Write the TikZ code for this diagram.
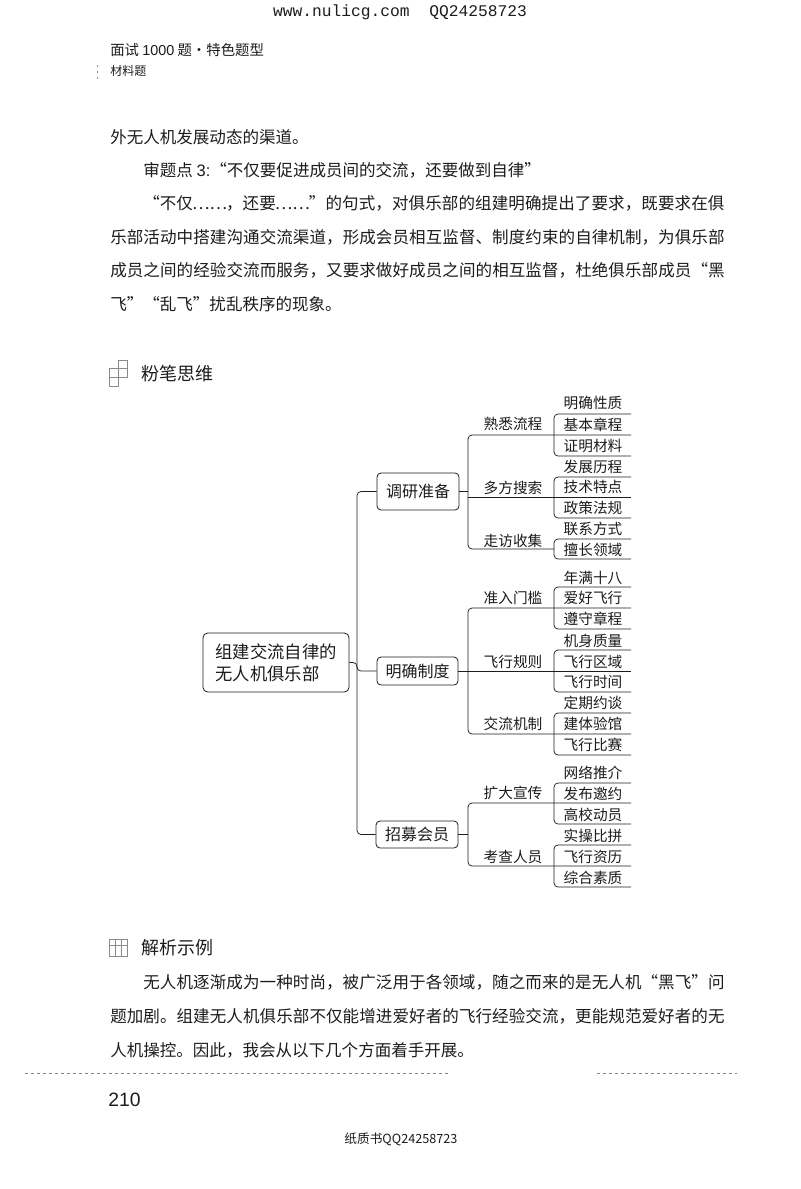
\documentclass[tikz,border=0pt]{standalone}
\usepackage{fontspec}
\setmainfont{Noto Sans CJK SC}
\newfontfamily\lat{Liberation Sans}
\newfontfamily\mon{Liberation Mono}
\XeTeXlinebreaklocale "zh"
\XeTeXlinebreakskip=0pt plus 3pt
\newcommand\fullline[1]{\parfillskip=0pt #1\par}
\newcommand\dotsbox{\makebox[2em][c]{……}}
\definecolor{ink}{HTML}{1C1C1C}
\definecolor{faint}{HTML}{8A8A8A}
\tikzset{
  link/.style={draw=ink,line width=0.55pt,rounded corners=3pt},
  rootbox/.style={draw=ink,line width=0.6pt,rounded corners=3.5pt,minimum width=109.5pt,minimum height=44.25pt,inner sep=0,align=left,font=\fontsize{13}{16.5}\selectfont,text=ink},
  midbox/.style={draw=ink,line width=0.6pt,rounded corners=3pt,inner sep=0,font=\fontsize{12}{14}\selectfont,text=ink},
  branch/.style={inner sep=0,font=\fontsize{11}{13}\selectfont,text=ink},
  leaf/.style={inner sep=0,font=\fontsize{11}{13}\selectfont,text=ink},
  bodyline/.style={anchor=west,inner sep=0,text width=461.25pt,font=\fontsize{12.4}{16}\selectfont,text=ink},
  shortline/.style={anchor=west,inner sep=0,font=\fontsize{12.4}{16}\selectfont,text=ink},
  heading/.style={anchor=west,inner sep=0,font=\fontsize{13.5}{16}\selectfont,text=ink},
  iconline/.style={draw=faint,line width=0.5pt},
}
\begin{document}
\begin{tikzpicture}[x=0.75pt,y=-0.75pt]
\useasboundingbox (0,0) rectangle (800,1189);
% page furniture
\node[inner sep=0,text=ink] (web) at (400,12) {\mon\fontsize{12.2}{14}\selectfont www.nulicg.com\hspace{1.2em}QQ24258723};
\node[anchor=west,inner sep=0,text=ink] (hd1) at (110,50) {\fontsize{10.8}{12}\selectfont 面试 {\lat 1000} 题·特色题型};
\node[anchor=west,inner sep=0,text=ink] (hd2) at (110,71) {\fontsize{9}{11}\selectfont 材料题};
\draw[faint,line width=0.5pt,dash pattern=on 1.5pt off 3pt] (97,65) -- (97,79);
% upper text
\node[shortline] (p1) at (110,137) {外无人机发展动态的渠道。};
\node[shortline] (p2) at (143,170) {审题点 {\lat 3:}“不仅要促进成员间的交流^^^^ff0c还要做到自律”};
\node[bodyline] (p3) at (110,203) {\fullline{\hspace{2em}“不仅\dotsbox{}^^^^ff0c还要\dotsbox{}”的句式^^^^ff0c对俱乐部的组建明确提出了要求^^^^ff0c既要求在俱}};
\node[bodyline] (p4) at (110,237) {\fullline{乐部活动中搭建沟通交流渠道^^^^ff0c形成会员相互监督、制度约束的自律机制^^^^ff0c为俱乐部}};
\node[bodyline] (p5) at (110,270) {\fullline{成员之间的经验交流而服务^^^^ff0c又要求做好成员之间的相互监督^^^^ff0c杜绝俱乐部成员“黑}};
\node[shortline] (p6) at (110,304) {飞”“乱飞”扰乱秩序的现象。};
% heading 1
\draw[iconline] (109,368) rectangle (118,386);
\draw[iconline] (118,360) rectangle (127,377);
\draw[iconline] (109,377) -- (118,377) (118,368) -- (127,368);
\node[heading] (h1) at (141,374) {粉笔思维};
% main nodes
\node[rootbox] (root) at (276,662.5) {组建交流自律的\\无人机俱乐部};
\node[midbox,minimum width=61.5pt,minimum height=27.75pt] (a) at (418,491.5) {调研准备};
\node[midbox,minimum width=60.75pt,minimum height=21pt] (b) at (417.5,671) {明确制度};
\node[midbox,minimum width=61.5pt,minimum height=20.25pt] (c) at (417,834.5) {招募会员};
% first-level connectors
\coordinate (tk) at (357,662.5);
\draw[link] (root.east) -- (tk) |- (b.west);
\draw[link] (a.west) -| (tk) |- (c.west);
% branch labels
\node[branch] (a1) at (513,424) {熟悉流程};
\node[branch] (a2) at (513,488) {多方搜索};
\node[branch] (a3) at (513,541) {走访收集};
\node[branch] (b1) at (513,598) {准入门槛};
\node[branch] (b2) at (513,662) {飞行规则};
\node[branch] (b3) at (513,724) {交流机制};
\node[branch] (c1) at (513,793) {扩大宣传};
\node[branch] (c2) at (513,857) {考查人员};
% leaf end points
\foreach \n/\t/\m/\bt in {g1/414/435/456,g2/477/497/518,g3/539/549/559,g4/587/608/629,g5/650/671/692,g6/713/734/755,g7/783/803/824,g8/845/866/887}{
  \coordinate (\n tl) at (554,\t);
  \coordinate (\n tr) at (631,\t);
  \coordinate (\n m) at (554,\m);
  \coordinate (\n mr) at (631,\m);
  \coordinate (\n bl) at (554,\bt);
  \coordinate (\n br) at (631,\bt);
  \draw[link] (\n tr) -- (\n tl) -- (\n bl) -- (\n br);
}
% second-level connectors
\coordinate (ja) at (468,491.5);
\coordinate (jb) at (468,671);
\coordinate (jc) at (468,834.5);
\draw[link] (a.east) -- (ja);
\draw[link] (b.east) -- (g5mr);
\draw[link] (c.east) -- (jc);
\draw[link] (g1mr) -| (ja) |- (g3m);
\draw[link] (ja |- g2m) -- (g2mr);
\draw[link] (g4mr) -| (jb) |- (g6mr);
\draw[link] (g7mr) -| (jc) |- (g8mr);
% leaves
\foreach \n/\y/\s in {l1/403/明确性质,l2/425/基本章程,l3/446/证明材料,l4/467/发展历程,l5/487/技术特点,l6/508/政策法规,l7/529/联系方式,l8/550/擅长领域,l9/578/年满十八,l10/598/爱好飞行,l11/619/遵守章程,l12/641/机身质量,l13/662/飞行区域,l14/682/飞行时间,l15/703/定期约谈,l16/724/建体验馆,l17/745/飞行比赛,l18/773/网络推介,l19/794/发布邀约,l20/815/高校动员,l21/836/实操比拼,l22/857/飞行资历,l23/878/综合素质}{
  \node[leaf] (\n) at (593,\y) {\s};
}
% heading 2
\draw[iconline] (109,939) rectangle (127,956);
\draw[iconline] (109,945) -- (127,945) (115,939) -- (115,956) (121,939) -- (121,956);
\node[heading] (h2) at (141,948) {解析示例};
% lower text
\node[bodyline] (q1) at (110,982) {\fullline{\hspace{2em}无人机逐渐成为一种时尚^^^^ff0c被广泛用于各领域^^^^ff0c随之而来的是无人机“黑飞”问}};
\node[bodyline] (q2) at (110,1016) {\fullline{题加剧。组建无人机俱乐部不仅能增进爱好者的飞行经验交流^^^^ff0c更能规范爱好者的无}};
\node[shortline] (q3) at (110,1050) {人机操控。因此^^^^ff0c我会从以下几个方面着手开展。};
% scan trace
\draw[faint,line width=0.5pt,dash pattern=on 2.5pt off 2pt] (25,1073) -- (450,1073) (597,1073) -- (737,1073);
% footer
\node[anchor=west,inner sep=0,text=ink] (pg) at (108,1100) {\lat\fontsize{14.5}{16}\selectfont 210};
\node[inner sep=0,text=ink] (foot) at (401,1139) {\fontsize{9.5}{11}\selectfont 纸质书QQ24258723};
\end{tikzpicture}
\end{document}
